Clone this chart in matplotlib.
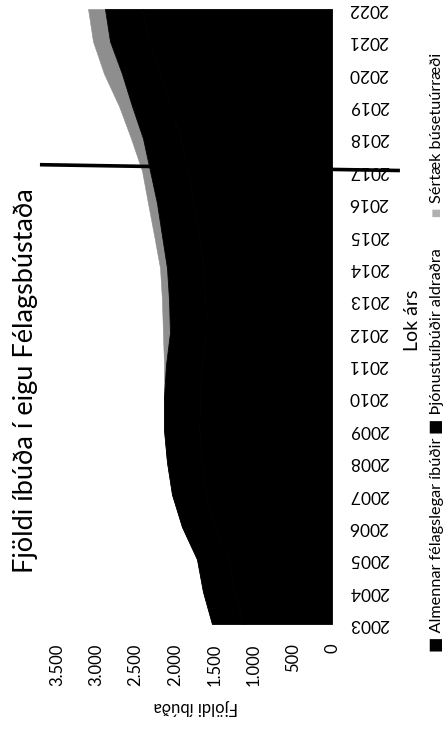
import matplotlib
matplotlib.use("Agg")
import matplotlib.pyplot as plt
import numpy as np

plt.rcParams['font.family'] = ['Lato', 'DejaVu Sans']

# ---- data ----
years = [2003, 2004, 2005, 2006, 2007, 2008, 2009, 2010, 2011, 2012,
         2013, 2014, 2015, 2016, 2017, 2018, 2019, 2020, 2021, 2022]
almennar = [1137, 1242, 1318, 1489, 1606, 1660, 1688, 1683, 1658, 1602,
            1612, 1636, 1698, 1757, 1843, 1928, 2065, 2190, 2340, 2409]
thjonusta = [390, 400, 400, 420, 430, 440, 450, 455, 455, 460,
             462, 464, 466, 470, 473, 477, 480, 483, 485, 480]
sertaek = [0, 0, 0, 0, 0, 0, 0, 0, 25, 90,
           90, 89, 100, 115, 102, 153, 166, 229, 217, 216]
value_ticks = [0, 500, 1000, 1500, 2000, 2500, 3000, 3500]
value_labels = ['0', '500', '1.000', '1.500', '2.000', '2.500', '3.000', '3.500']
series_names = ['Almennar félagslegar íbúðir', 'Þjónustuíbúðir aldraðra', 'Sértæk búsetuúrræði']
title = 'Fjöldi íbúða í eigu Félagsbústaða'
value_axis_label = 'Fjöldi íbúða'
year_axis_label = 'Lok árs'
marker_year = 2017

W, H = 448, 733
def fx(px):
    return px / W
def fy(py):
    return 1 - py / H

fig = plt.figure(figsize=(W / 100, H / 100), dpi=100)
fig.patch.set_facecolor('white')

ax = fig.add_axes([fx(57), fy(624), (332 - 57) / W, (624 - 9) / H])

a = np.array(almennar, dtype=float)
t = np.array(thjonusta, dtype=float)
s = np.array(sertaek, dtype=float)
c1 = a
c2 = a + t
c3 = c2 + s

ax.fill_betweenx(years, c2, c3, facecolor='#8e8e8e', edgecolor='#8e8e8e', lw=0.4)
ax.fill_betweenx(years, c1, c2, facecolor='#000000', edgecolor='#000000', lw=0.6)
ax.fill_betweenx(years, 0, c1, facecolor='#000000', edgecolor='#000000', lw=0.6)

ax.set_xlim(3500, 0)
ax.set_ylim(years[0], years[-1])

ax.set_xticks(value_ticks)
ax.set_xticklabels(value_labels, rotation=90, fontsize=12)
ax.tick_params(axis='x', length=0, pad=14)

ax.yaxis.tick_right()
ax.set_yticks(years)
ax.set_yticklabels([str(y) for y in years], rotation=180, fontsize=12.5, va='center')
ax.tick_params(axis='y', length=0, pad=12)

for sp in ax.spines.values():
    sp.set_visible(False)

# marker line at 2017, extending beyond the plot on both sides (axes-fraction x)
ax.plot([-0.062, 1.247], [marker_year + 0.19, marker_year + 0.01],
        transform=ax.get_yaxis_transform(), color='black', lw=2.6,
        solid_capstyle='butt', clip_on=False, zorder=5)

# Titles / labels
fig.text(fx(26), fy(381), title, rotation=90, fontsize=19.5, ha='center', va='center')
fig.text(fx(196), fy(707), value_axis_label, rotation=180, fontsize=12, ha='center', va='center')
fig.text(fx(412), fy(320), year_axis_label, rotation=90, fontsize=14, ha='center', va='center')

# Legend (rotated)
lx = fx(437)
fig.text(lx, fy(652), '■ ' + series_names[0], rotation=90, fontsize=11.7, ha='center', va='bottom')
fig.text(lx, fy(434), '■ ' + series_names[1], rotation=90, fontsize=11.7, ha='center', va='bottom')
fig.text(lx, fy(217), '■', rotation=90, fontsize=7, ha='center', va='bottom', color='#b0b0b0')
fig.text(lx, fy(203), series_names[2], rotation=90, fontsize=11.7, ha='center', va='bottom')

fig.savefig('out.png', dpi=100, facecolor='white')
